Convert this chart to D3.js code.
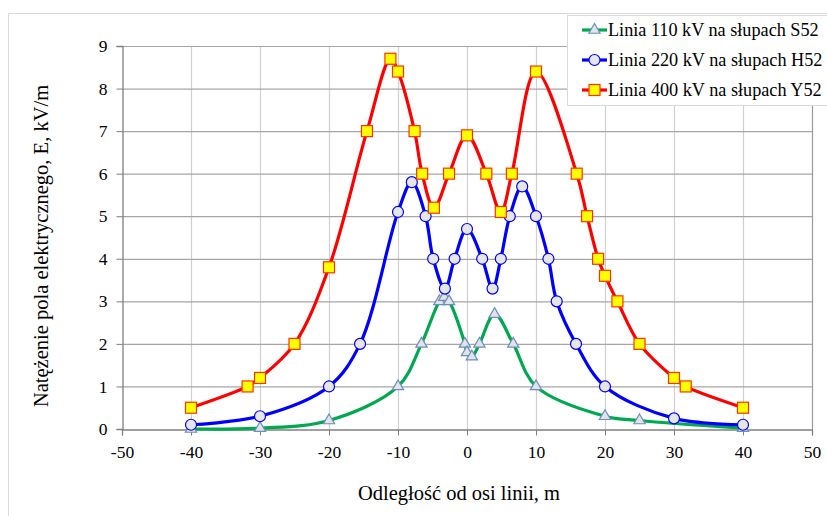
<!DOCTYPE html>
<html>
<head>
<meta charset="utf-8">
<script src="https://cdnjs.cloudflare.com/ajax/libs/d3/7.8.5/d3.min.js"></script>
<style>
body { margin: 0; background: #fff; }
svg text { font-family: "Liberation Serif", "Times New Roman", serif; }
</style>
</head>
<body>
<svg id="chart" width="827" height="516"></svg>
<script>
// values: [distance m, E kV/m]
var s110 = [[-40,0.0],[-30,0.02],[-20,0.2],[-10,1.0],[-6.6,2.0],[-4,3.0],[-3.3,3.1],[-2.6,3.0],
            [-0.3,2.0],[0,1.8],[0.7,1.7],[1.8,2.0],[4,2.7],[6.7,2.0],[10,1.0],[20,0.3],[25,0.2],[40,0.02]];
var s220 = [[-40,0.1],[-30,0.3],[-20,1.0],[-15.5,2.0],[-10,5.1],[-8,5.8],[-6,5.0],[-4.9,4.0],[-3.2,3.3],
            [-1.8,4.0],[0,4.7],[2.2,4.0],[3.7,3.3],[4.9,4.0],[6.2,5.0],[8,5.7],[10,5.0],[11.8,4.0],
            [13,3.0],[15.8,2.0],[20,1.0],[30,0.25],[40,0.1]];
var s400 = [[-40,0.5],[-31.8,1.0],[-30,1.2],[-25,2.0],[-20,3.8],[-14.5,7.0],[-11.1,8.7],[-10,8.4],
            [-7.6,7.0],[-6.5,6.0],[-4.8,5.2],[-2.6,6.0],[0,6.9],[2.8,6.0],[4.9,5.1],[6.5,6.0],[10,8.4],
            [15.9,6.0],[17.4,5.0],[19,4.0],[20,3.6],[21.8,3.0],[25,2.0],[30,1.2],[31.7,1.0],[40,0.5]];

var xTicks = d3.range(-50, 51, 10);
var yTicks = d3.range(0, 10, 1);
var names = ["Linia 110 kV na słupach S52", "Linia 220 kV na słupach H52", "Linia 400 kV na słupach Y52"];

var svg = d3.select("#chart");

// outer chart frame (only left and top show in picture)
svg.append("path").attr("d", "M8.5,516 V13.5 H827").attr("fill", "none").attr("stroke", "#d9d9d9");

var x = d3.scaleLinear().domain([-50, 50]).range([122, 812]);
var y = d3.scaleLinear().domain([0, 9]).range([429, 46]);

var g = svg.append("g");

// grid
g.selectAll("line.vg").data(xTicks.slice(1)).enter().append("line")
    .attr("x1", d => x(d) + 0.5).attr("x2", d => x(d) + 0.5)
    .attr("y1", y(9)).attr("y2", y(0))
    .attr("stroke", d => d == 50 ? "#999" : "#d0d0d0").attr("stroke-width", 1.2);
g.selectAll("line.hg").data(yTicks.slice(1)).enter().append("line")
    .attr("x1", x(-50)).attr("x2", x(50))
    .attr("y1", d => y(d) + 0.5).attr("y2", d => y(d) + 0.5)
    .attr("stroke", "#a6a6a6").attr("stroke-width", 1.2);

// axes
var xAxis = g.append("g").attr("transform", "translate(0," + (y(0) + 0.5) + ")")
    .call(d3.axisBottom(x).tickValues(xTicks).tickSize(6).tickPadding(10).tickFormat(d3.format("d")));
var yAxis = g.append("g").attr("transform", "translate(" + (x(-50) + 0.5) + ",0)")
    .call(d3.axisLeft(y).tickValues(yTicks).tickSize(6).tickPadding(9));
[xAxis, yAxis].forEach(function(a) {
    a.attr("font-family", null);
    a.select(".domain").attr("stroke", "#808080").attr("stroke-width", 1.3);
    a.selectAll(".tick line").attr("stroke", "#808080");
    a.selectAll("text").attr("font-size", 17.5).attr("fill", "#000");
});
xAxis.selectAll(".tick text").text(d => d < 0 ? "-" + (-d) : d);

// titles
svg.append("text").attr("x", 459).attr("y", 500).attr("text-anchor", "middle")
    .attr("font-size", 20.5).text("Odległość od osi linii, m");
svg.append("text").attr("transform", "translate(48,246) rotate(-90)").attr("text-anchor", "middle")
    .attr("font-size", 20.5).text("Natężenie pola elektrycznego, E, kV/m");

var line = d3.line().x(d => x(d[0])).y(d => y(d[1])).curve(d3.curveCatmullRom.alpha(0.5));

var series = [
    { data: s110, color: "#00a84f", marker: "tri" },
    { data: s220, color: "#0000ff", marker: "circ" },
    { data: s400, color: "#ff0000", marker: "sq" }
];

function marker(sel, type) {
    if (type == "tri") {
        sel.append("path").attr("d", d3.symbol().type(d3.symbolTriangle).size(55))
            .attr("fill", "#e3e3e3").attr("stroke", "#6a8fc0").attr("stroke-width", 1.2);
    } else if (type == "circ") {
        sel.append("circle").attr("r", 5.5)
            .attr("fill", "#e6e6e6").attr("stroke", "#0000ff").attr("stroke-width", 1.2);
    } else {
        sel.append("rect").attr("x", -5.5).attr("y", -5.5).attr("width", 11).attr("height", 11)
            .attr("fill", "#ffff00").attr("stroke", "#ff3300").attr("stroke-width", 1.2);
    }
}

series.forEach(function(s) {
    g.append("path").datum(s.data).attr("d", line)
        .attr("fill", "none").attr("stroke", s.color).attr("stroke-width", 3.2);
});
series.forEach(function(s) {
    g.selectAll(null).data(s.data).enter().append("g")
        .attr("transform", d => "translate(" + x(d[0]) + "," + y(d[1]) + ")")
        .call(marker, s.marker);
});

// legend
var lg = svg.append("g");
lg.append("rect").attr("x", 567.5).attr("y", 15.5).attr("width", 270).attr("height", 90)
    .attr("fill", "#fff").attr("stroke", "#d9d9d9");
series.forEach(function(s, i) {
    var ly = 30 + i * 30;
    lg.append("line").attr("x1", 582).attr("x2", 607).attr("y1", ly).attr("y2", ly)
        .attr("stroke", s.color).attr("stroke-width", 3.2);
    lg.append("g").attr("transform", "translate(594.5," + ly + ")").call(marker, s.marker);
    lg.append("text").attr("x", 608).attr("y", ly + 6).attr("font-size", 18.2).text(names[i]);
});
</script>
</body>
</html>
